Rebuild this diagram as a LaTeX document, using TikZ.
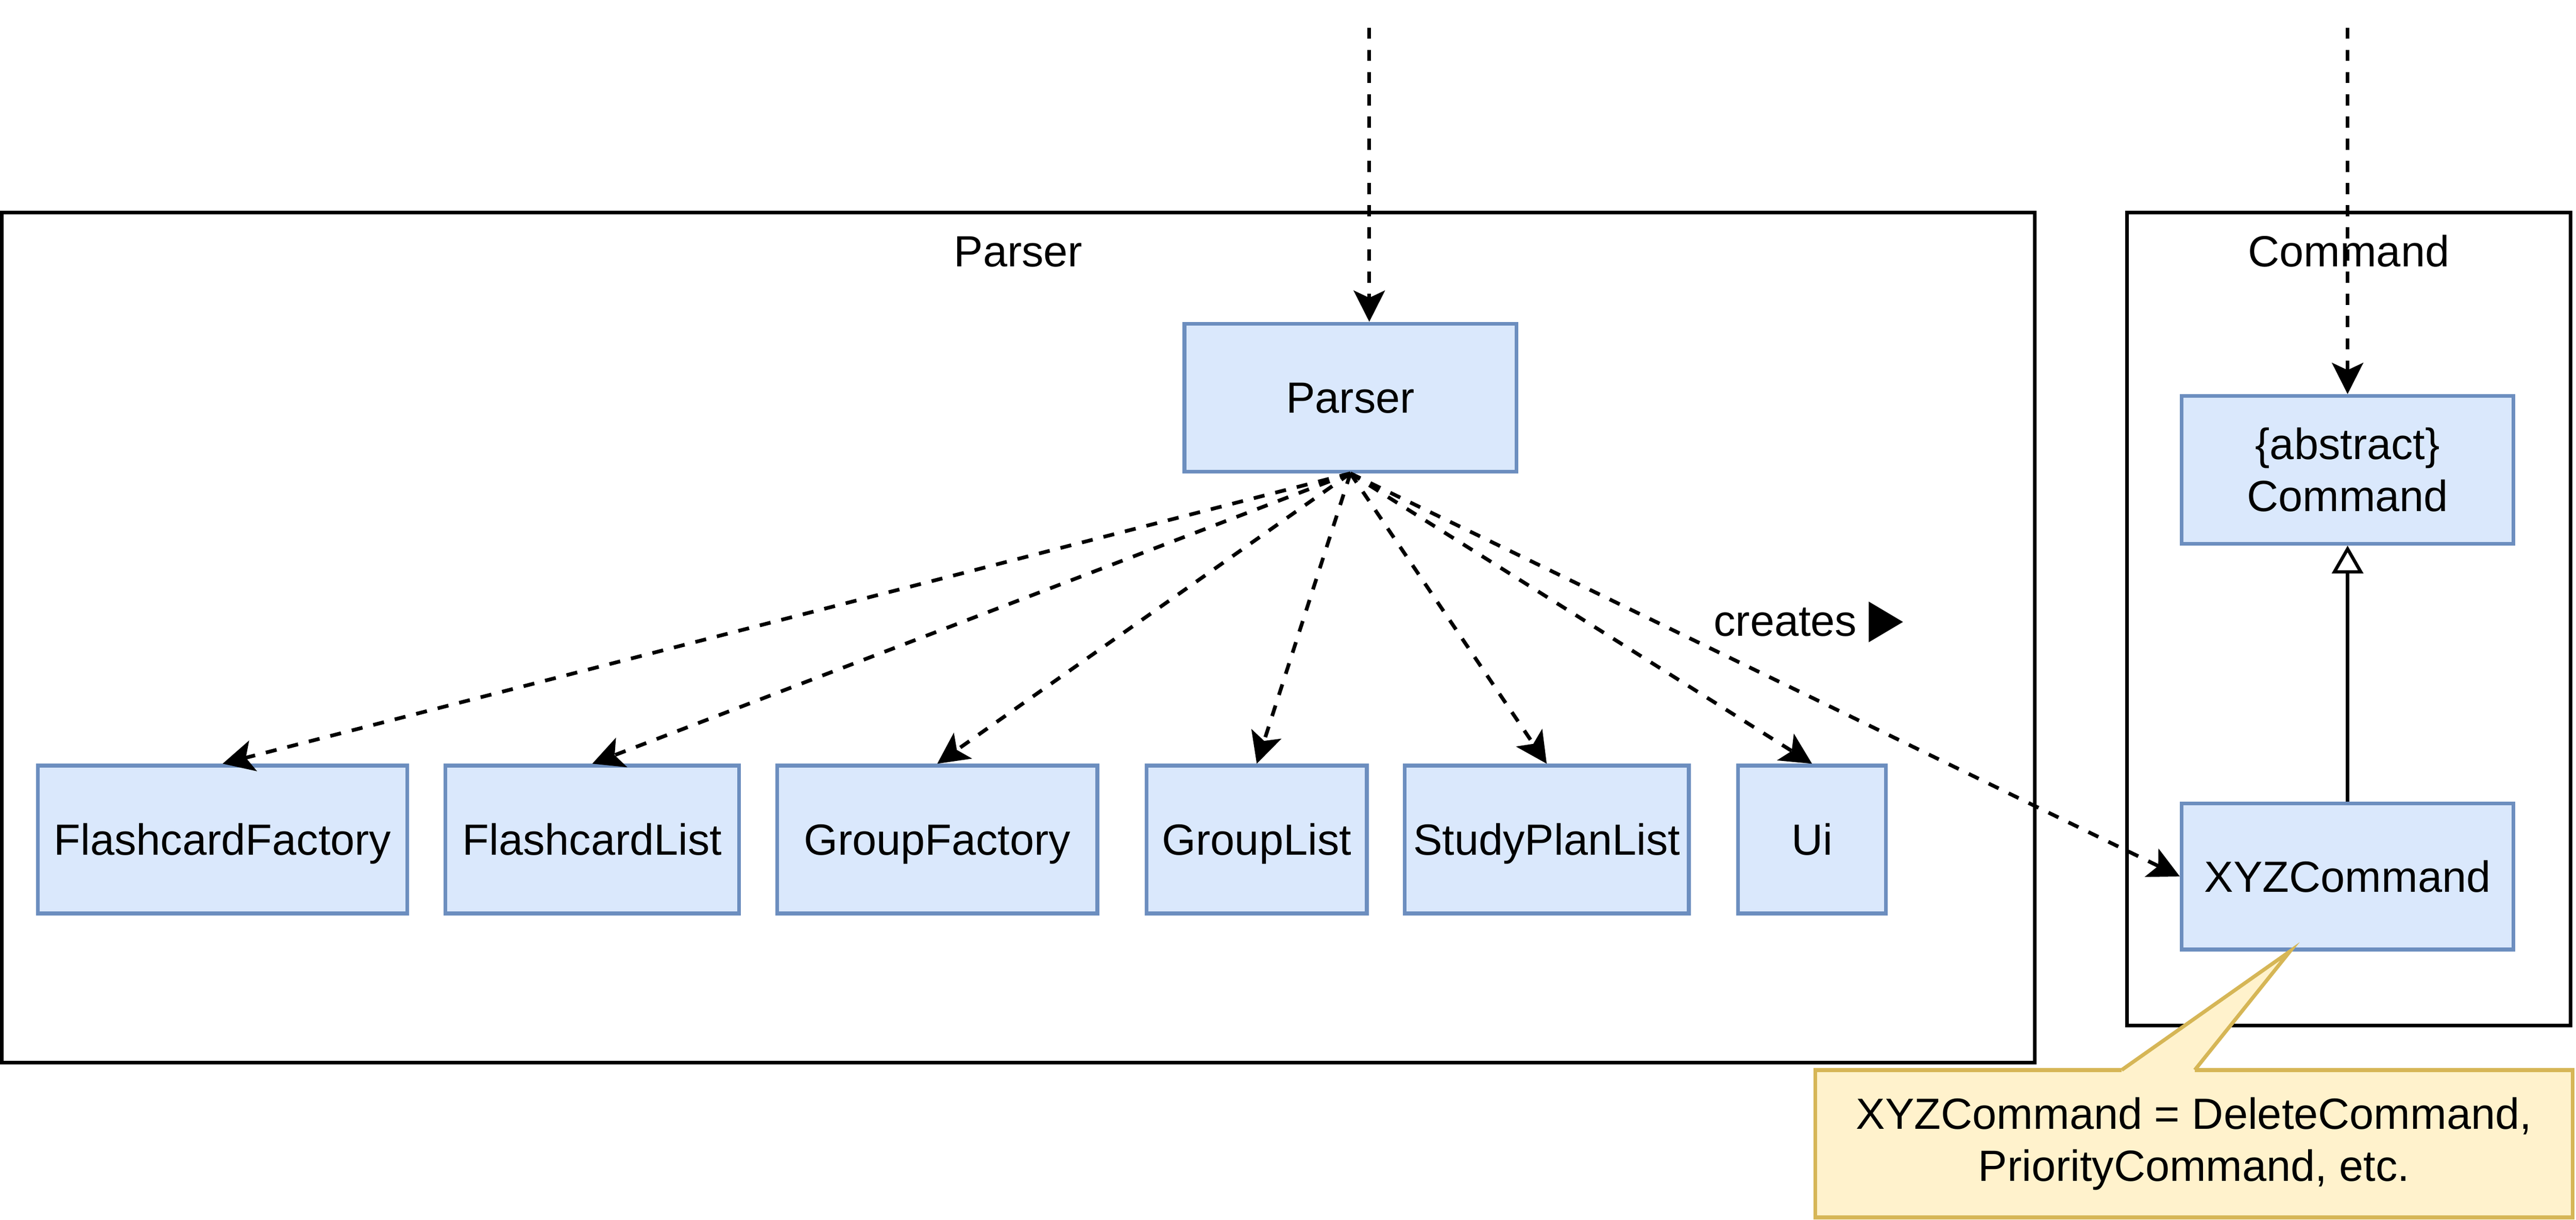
\documentclass[tikz,border=0pt]{standalone}
\usepackage{fontspec}
\setmainfont{Liberation Sans}
\newfontfamily\symfont{DejaVu Sans}
\usetikzlibrary{arrows.meta}

\definecolor{clsfill}{HTML}{DAE8FC}
\definecolor{clsline}{HTML}{6C8EBF}
\definecolor{notefill}{HTML}{FFF2CC}
\definecolor{noteline}{HTML}{D6B656}

\tikzset{
  cls/.style={draw=clsline, fill=clsfill, line width=0.1125cm, minimum height=4.5cm, inner sep=0pt, align=center},
  oneline/.style={text height=26.8pt, text depth=0pt},
  pkgframe/.style={draw=black, line width=0.1125cm},
  dep/.style={line width=0.1125cm, dash pattern=on 0.3375cm off 0.3375cm, -{Stealth[length=0.95cm, width=0.95cm, inset=0.22cm]}},
  inherit/.style={line width=0.1cm, -{Triangle[open, length=0.85cm, width=0.95cm]}},
  notebox/.style={draw=noteline, fill=notefill, line width=0.1125cm, inner sep=0pt, align=center}
}

\begin{document}
\begin{tikzpicture}[x=0.05cm, y=-0.05cm, font=\fontsize{37.8}{45}\selectfont]

\useasboundingbox (0,0) rectangle (1568.05,742.41);

% Package frames
\draw[pkgframe] (1.1,129.4) rectangle (1238.5,646.8);
\draw[pkgframe] (1294.7,129.4) rectangle (1564.7,624.3);
\node[oneline] (parserpkg) at (619.8,153) {Parser};
\node[oneline] (commandpkg) at (1429.7,153) {Command};

% Parser and the classes it creates
\node[cls, oneline, minimum width=10.1cm] (parser) at (822,242) {Parser};
\node[cls, oneline, minimum width=11.25cm] (ffactory) at (135.5,511) {FlashcardFactory};
\node[cls, oneline, minimum width=8.95cm] (flist) at (360.5,511) {FlashcardList};
\node[cls, oneline, minimum width=9.75cm] (gfactory) at (570.5,511) {GroupFactory};
\node[cls, oneline, minimum width=6.7cm] (glist) at (765,511) {GroupList};
\node[cls, oneline, minimum width=8.65cm] (splist) at (941.5,511) {StudyPlanList};
\node[cls, oneline, minimum width=4.5cm] (ui) at (1103,511) {Ui};

% Command classes
\node[cls, minimum width=10.1cm] (abstract) at (1429,286) {\{abstract\}\\Command};
\node[cls, oneline, minimum width=10.1cm, minimum height=4.45cm] (xyz) at (1429,533.5) {XYZCommand};

% Incoming calls from outside
\coordinate (inparser) at (833.5,16.9);
\coordinate (incommand) at (1429,16.9);
\draw[dep] (inparser) -- (inparser |- parser.north);
\draw[dep] (incommand) -- (incommand |- abstract.north);

% Parser creates each class
\draw[dep] (parser.south) -- (ffactory.north);
\draw[dep] (parser.south) -- (flist.north);
\draw[dep] (parser.south) -- (gfactory.north);
\draw[dep] (parser.south) -- (glist.north);
\draw[dep] (parser.south) -- (splist.north);
\draw[dep] (parser.south) -- (ui.north);
\draw[dep] (parser.south) -- (xyz.west);
\node[anchor=base] (creates) at (1101,387) {creates \scalebox{1.03}[1.22]{\symfont ▶}};

% XYZCommand inherits from Command
\draw[inherit] (xyz.north) -- (abstract.south);

% Note with pointer to XYZCommand
\node[notebox, minimum width=23.05cm, minimum height=4.485cm] (note) at (1335.5,696.2)
  {XYZCommand = DeleteCommand,\\PriorityCommand, etc.};
\coordinate (tip) at (1394,579);
\coordinate (tipl) at (1291.5,651.3);
\coordinate (tipr) at (1336,651.3);
\fill[notefill] (tipl) -- (tip) -- (tipr) -- ++(0,3) -- ([yshift=-0.15cm]tipl) -- cycle;
\draw[noteline, line width=0.1125cm] (tipl) -- (tip) -- (tipr);

\end{tikzpicture}
\end{document}
